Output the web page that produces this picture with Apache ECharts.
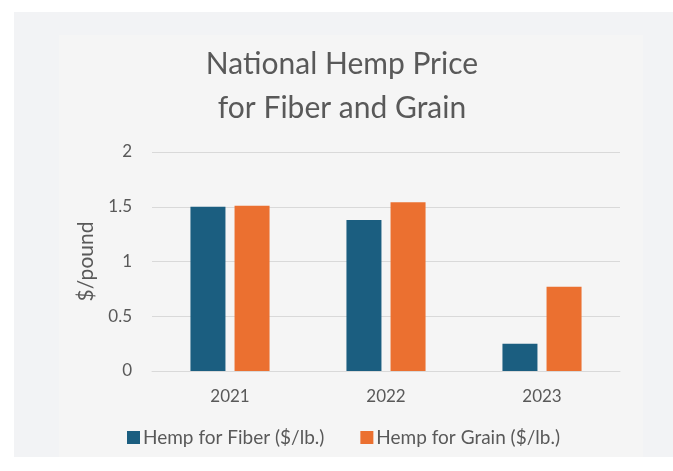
<!DOCTYPE html>
<html>
<head>
<meta charset="utf-8">
<script src="https://cdn.jsdelivr.net/npm/echarts@6/dist/echarts.min.js"></script>
<style>
html,body{margin:0;padding:0;background:#ffffff;}
#main{width:673px;height:471px;}
</style>
</head>
<body>
<div id="main"></div>
<script>
const categories = ['2021', '2022', '2023'];
const fiberValues = [1.50, 1.38, 0.25];
const grainValues = [1.51, 1.54, 0.77];
const seriesNames = ['Hemp for Fiber ($/lb.)', 'Hemp for Grain ($/lb.)'];
const yTicks = [0, 0.5, 1, 1.5, 2];

const textColor = '#595959';
const fontFam = 'Lato, "Open Sans", sans-serif';

const chart = echarts.init(document.getElementById('main'), null, {renderer: 'canvas'});
chart.setOption({
  backgroundColor: '#ffffff',
  animation: false,
  graphic: [
    {type: 'rect', z: -10, shape: {x: 14, y: 12, width: 659, height: 445}, style: {fill: '#f2f3f5'}},
    {type: 'rect', z: -9, shape: {x: 59, y: 35, width: 584, height: 422}, style: {fill: '#f5f5f5'}}
  ],
  title: {
    text: 'National Hemp Price\nfor Fiber and Grain',
    left: 337,
    textAlign: 'center',
    top: 37,
    textStyle: {fontFamily: fontFam, fontSize: 30, fontWeight: 'normal', color: textColor, lineHeight: 44}
  },
  grid: {left: 152, right: 53, top: 152, bottom: 100},
  legend: {
    bottom: 19,
    left: 122,
    itemWidth: 13,
    itemHeight: 13,
    itemGap: 36,
    icon: 'rect',
    textStyle: {fontFamily: fontFam, fontSize: 19, color: textColor, padding: [0, 0, 0, -2]},
    data: seriesNames
  },
  xAxis: {
    type: 'category',
    data: categories,
    axisLine: {lineStyle: {color: '#d9d9d9'}},
    axisTick: {show: false},
    axisLabel: {fontFamily: fontFam, fontSize: 17, color: textColor, margin: 17}
  },
  yAxis: {
    type: 'value',
    min: yTicks[0],
    max: yTicks[yTicks.length - 1],
    interval: 0.5,
    name: '$/pound',
    nameLocation: 'middle',
    nameGap: 55,
    nameTextStyle: {fontFamily: fontFam, fontSize: 21, color: textColor},
    axisLine: {show: false},
    axisTick: {show: false},
    splitLine: {lineStyle: {color: '#d9d9d9'}},
    axisLabel: {fontFamily: fontFam, fontSize: 17, color: textColor, margin: 20}
  },
  series: [
    {name: seriesNames[0], type: 'bar', data: fiberValues, barWidth: 35, barGap: '26%', itemStyle: {color: '#1b5e80'}},
    {name: seriesNames[1], type: 'bar', data: grainValues, barWidth: 35, barGap: '26%', itemStyle: {color: '#eb7030'}}
  ]
});
</script>
</body>
</html>
